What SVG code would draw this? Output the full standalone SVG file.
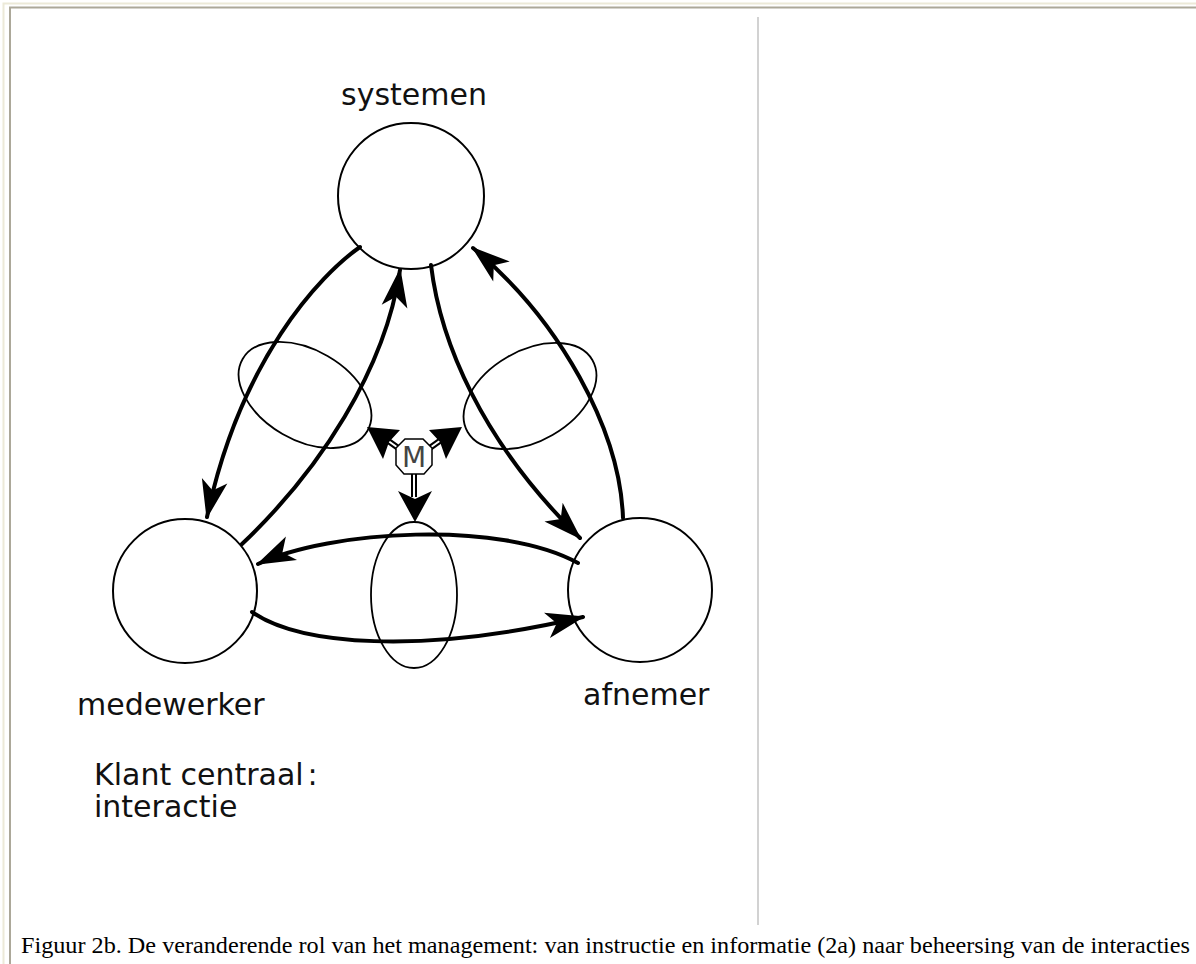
<svg xmlns="http://www.w3.org/2000/svg" width="1196" height="964" viewBox="0 0 1196 964">
  <style>
    .node { fill: none; stroke: #000; stroke-width: 2; }
    .ell { fill: none; stroke: #000; stroke-width: 1.8; }
    .conn { fill: none; stroke: #000; stroke-width: 4; stroke-linecap: round; marker-end: url(#ah); }
    .lbl { font-family: "DejaVu Sans", "Liberation Sans", sans-serif; font-size: 30px; fill: #111; }
    .cap { font-family: "Liberation Serif", "Times New Roman", serif; font-size: 24px; fill: #000; }
    .shaftO { fill: none; stroke: #000; stroke-width: 6; }
    .shaftI { fill: none; stroke: #fff; stroke-width: 2; }
  </style>
  <defs>
    <marker id="ah" markerUnits="userSpaceOnUse" markerWidth="46" markerHeight="32" viewBox="-42 -16 46 32" refX="0" refY="0" orient="auto" overflow="visible">
      <path d="M2,0 L-37,-13 L-27,0 L-37,13 Z" fill="#000"/>
    </marker>
  </defs>

  <rect x="0" y="0" width="1196" height="964" fill="#fff"/>

  <g id="frame">
    <path d="M3.5,964 V3.5 H1196" fill="none" stroke="#ece9d8" stroke-width="2"/>
    <path d="M10,964 V7.5 H1196" fill="none" stroke="#aca899" stroke-width="2"/>
    <line x1="758" y1="17" x2="758" y2="925" stroke="#d2d2d2" stroke-width="2"/>
  </g>

  <g id="ellipses">
    <ellipse class="ell" cx="305" cy="395" rx="72" ry="45" transform="rotate(30 305 395)"/>
    <ellipse class="ell" cx="530" cy="396" rx="72" ry="45" transform="rotate(-30 530 396)"/>
    <ellipse class="ell" cx="414" cy="595" rx="43" ry="73"/>
  </g>

  <g id="systemen">
    <circle class="node" cx="411" cy="196" r="73"/>
    <text class="lbl" x="341" y="105">systemen</text>
  </g>
  <g id="medewerker">
    <circle class="node" cx="185" cy="591" r="72"/>
    <text class="lbl" x="77" y="715">medewerker</text>
  </g>
  <g id="afnemer">
    <circle class="node" cx="640" cy="590" r="72"/>
    <text class="lbl" x="583" y="705">afnemer</text>
  </g>

  <g id="connectors">
    <path class="conn" d="M360,247 C320,275 240,360 207,517"/>
    <path class="conn" d="M242,544 C320,470 385,370 400,270"/>
    <path class="conn" d="M431,265 C440,340 480,440 580,538"/>
    <path class="conn" d="M623,518 C620,430 560,320 473,248"/>
    <path class="conn" d="M578,563 C500,520 330,530 258,564"/>
    <path class="conn" d="M252,612 C300,645 420,655 583,617"/>
  </g>

  <g id="management">
    <path class="shaftO" d="M401,450 L387,440"/>
    <path class="shaftI" d="M401,450 L387,440"/>
    <path class="shaftO" d="M427,450 L441,440"/>
    <path class="shaftI" d="M427,450 L441,440"/>
    <path class="shaftO" d="M414,472 L414,497"/>
    <path class="shaftI" d="M414,472 L414,497"/>
    <polygon points="367,427 400,430 389,442 383,459" fill="#000"/>
    <polygon points="462,427 429,430 440,442 446,459" fill="#000"/>
    <polygon points="415,522 398,491 415,499 432,491" fill="#000"/>
    <polygon points="405,439 423,439 432,448 432,465 424,474 404,474 396,465 396,448" fill="#fff" stroke="#000" stroke-width="1.5"/>
    <text x="414" y="467" text-anchor="middle" font-family="DejaVu Sans, sans-serif" font-size="28" fill="#444">M</text>
  </g>

  <g id="title">
    <text class="lbl"><tspan x="94" y="785">Klant</tspan><tspan x="180.5" y="785">centraal</tspan><tspan x="307.5" y="785">:</tspan></text>
    <text class="lbl" x="94" y="817">interactie</text>
  </g>

  <text class="cap" x="21" y="953" textLength="1169" lengthAdjust="spacingAndGlyphs">Figuur 2b. De veranderende rol van het management: van instructie en informatie (2a) naar beheersing van de interacties</text>
</svg>
